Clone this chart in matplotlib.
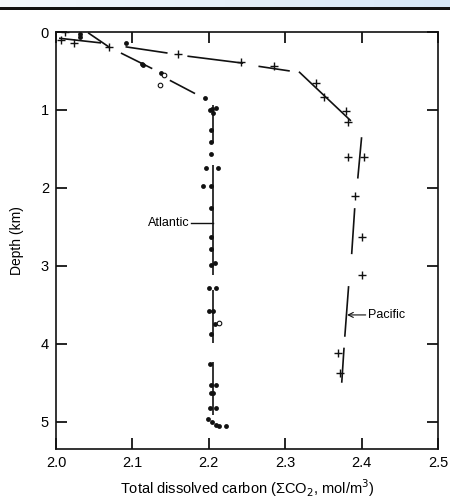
import matplotlib.pyplot as plt
import numpy as np

plt.rcParams['font.family'] = ['Liberation Sans', 'DejaVu Sans']

# Pacific stations (crosses): carbon (mol/m3), depth (km)
pac_c = [2.012, 2.006, 2.023, 2.069, 2.160, 2.242, 2.285, 2.340, 2.351,
         2.379, 2.382, 2.382, 2.403, 2.391, 2.401, 2.400, 2.369, 2.372]
pac_d = [0.00, 0.10, 0.14, 0.19, 0.28, 0.38, 0.44, 0.65, 0.83,
         1.01, 1.15, 1.60, 1.60, 2.10, 2.63, 3.12, 4.12, 4.37]

# Atlantic stations (dots)
atl_c = [2.031, 2.032, 2.092, 2.114, 2.112, 2.137, 2.195, 2.201, 2.209,
         2.204, 2.205, 2.203, 2.203, 2.203, 2.196, 2.212, 2.192, 2.203,
         2.203, 2.203, 2.203, 2.203, 2.208, 2.200, 2.210, 2.200, 2.206,
         2.208, 2.203, 2.201, 2.203, 2.209, 2.203, 2.206, 2.201, 2.209,
         2.199, 2.204, 2.209, 2.214, 2.222]
atl_d = [0.03, 0.06, 0.14, 0.42, 0.41, 0.53, 0.85, 1.00, 0.97,
         0.99, 1.04, 1.26, 1.41, 1.56, 1.74, 1.74, 1.97, 1.97,
         2.26, 2.63, 2.78, 2.99, 2.96, 3.28, 3.28, 3.58, 3.58,
         3.74, 3.87, 4.26, 4.53, 4.53, 4.63, 4.63, 4.83, 4.83,
         4.96, 5.01, 5.04, 5.06, 5.06]
# open circles
atl_open_c = [2.141, 2.136, 2.213]
atl_open_d = [0.55, 0.68, 3.73]

# hand-drawn profile segments ((c0, d0), (c1, d1))
pac_segs = [((2.004, 0.08), (2.059, 0.14)),
            ((2.091, 0.19), (2.146, 0.27)),
            ((2.172, 0.31), (2.245, 0.40)),
            ((2.265, 0.44), (2.306, 0.50)),
            ((2.318, 0.51), (2.386, 1.14)),
            ((2.400, 1.35), (2.395, 1.88)),
            ((2.391, 2.26), (2.387, 2.85)),
            ((2.383, 3.26), (2.378, 3.91)),
            ((2.377, 4.05), (2.374, 4.50))]
atl_segs = [((2.042, 0.01), (2.069, 0.19)),
            ((2.085, 0.27), (2.126, 0.47)),
            ((2.149, 0.62), (2.182, 0.79)),
            ((2.206, 0.94), (2.206, 1.42)),
            ((2.206, 1.71), (2.206, 3.12)),
            ((2.206, 3.31), (2.206, 3.99)),
            ((2.206, 4.23), (2.206, 4.92))]

xticks = [2.0, 2.1, 2.2, 2.3, 2.4, 2.5]
yticks = [0, 1, 2, 3, 4, 5]

fig = plt.figure(figsize=(4.5, 5), dpi=100)

# header band of the slide
hb = fig.add_axes([0, 1 - 7 / 500, 1, 7 / 500])
hb.imshow(np.linspace(0, 1, 256)[None, :], aspect='auto',
          cmap=plt.matplotlib.colors.LinearSegmentedColormap.from_list('h', ['#f4f8fc', '#d6e6f6']))
hb.axis('off')
fig.add_artist(plt.Rectangle((0, 1 - 10 / 500), 1, 3 / 500, transform=fig.transFigure,
                             color='#111111', lw=0))

ax = fig.add_axes([56 / 450, 1 - 449 / 500, 382 / 450, 417 / 500])

for (c0, d0), (c1, d1) in pac_segs + atl_segs:
    ax.plot([c0, c1], [d0, d1], color='#111111', lw=1.2, solid_capstyle='butt')

ax.plot(pac_c, pac_d, '+', color='#111111', ms=5.5, mew=1.0)
ax.plot(atl_c, atl_d, 'o', color='#111111', ms=3.5, mew=0)
ax.plot(atl_open_c, atl_open_d, 'o', mfc='white', mec='#111111', ms=3.3, mew=0.8)

# labels
ax.plot([2.177, 2.205], [2.45, 2.45], color='#111111', lw=1.0)
ax.text(2.175, 2.45, 'Atlantic', ha='right', va='center', fontsize=9)
ax.annotate('Pacific', xy=(2.381, 3.63), xytext=(2.409, 3.63), ha='left', va='center',
            fontsize=9, arrowprops=dict(arrowstyle='->', lw=0.8, color='#111111',
                                        shrinkA=0, shrinkB=0))

ax.set_xlim(2.0, 2.5)
ax.set_ylim(5.35, 0)
ax.set_xticks(xticks)
ax.set_xticklabels(['%.1f' % v for v in xticks])
ax.set_yticks(yticks)
ax.tick_params(direction='in', length=8, width=1.2, labelsize=10.5,
               top=True, right=True, pad=5)
for s in ax.spines.values():
    s.set_linewidth(1.2)
    s.set_color('#111111')

ax.set_xlabel('Total dissolved carbon (ΣCO$_2$, mol/m$^3$)', fontsize=10.5, labelpad=5)
ax.set_ylabel('Depth (km)', fontsize=10, labelpad=12)

fig.savefig('out.png', dpi=100)
